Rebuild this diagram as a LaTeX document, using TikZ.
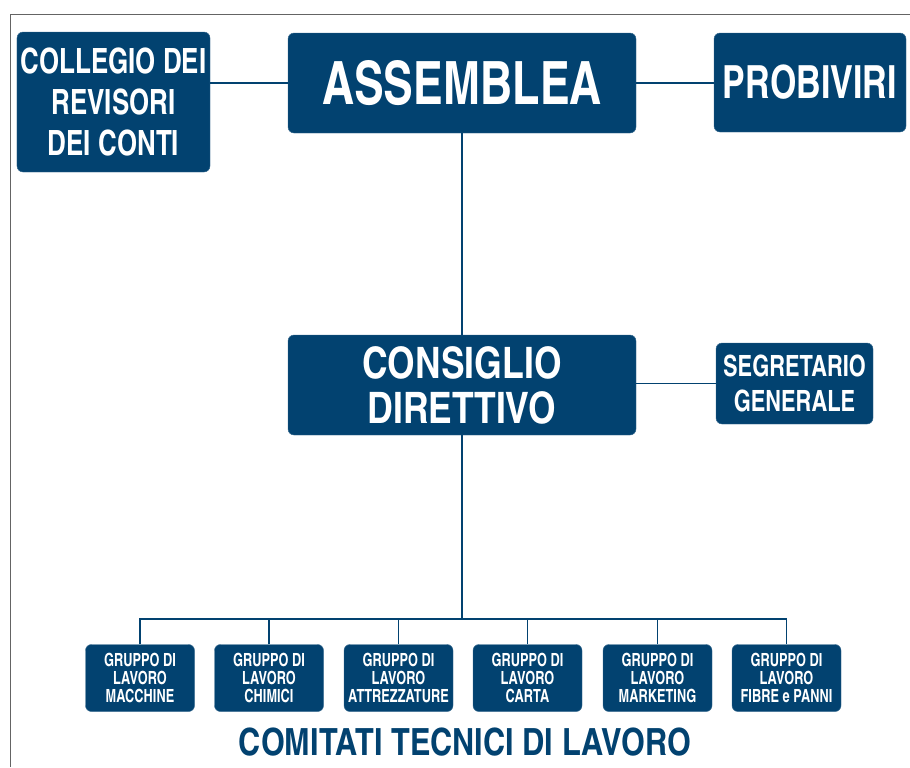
\documentclass[tikz,border=0pt]{standalone}
\usepackage{fontspec}
\setmainfont{TeX Gyre Heros Cn}[FakeStretch=0.91]
\newfontfamily\groupfont{TeX Gyre Heros Cn}[FakeStretch=0.86]
\newfontfamily\plainfont{TeX Gyre Heros Cn}
\usepackage{tikz}
\usetikzlibrary{calc}
\definecolor{orgblue}{RGB}{2,66,112}
\definecolor{framegray}{RGB}{100,100,100}

\begin{document}
\begin{tikzpicture}[x=0.3mm, y=-0.3mm,
        box_style/.style={rectangle, rounded corners=1.8mm, fill=orgblue, draw=orgblue!80!white, thin, text=white, align=center, inner sep=0pt, font=\bfseries},
        group_style/.style={box_style, minimum width=32.7mm, minimum height=20.1mm, font=\groupfont\bfseries\fontsize{15.5}{15.4}\selectfont},
        edge_style/.style={draw=orgblue, line width=1.2pt}]

        \useasboundingbox (0,0) rectangle (910,767);
        \draw [framegray, line width=0.8pt] (910,14) -- (10,14) -- (10,767);

        \node [box_style, minimum width=57.9mm, minimum height=42mm, font=\bfseries\fontsize{29.7}{35}\selectfont] (collegio) at (113.5,102) {COLLEGIO DEI\\REVISORI\\DEI CONTI};

        \node [box_style, minimum width=104.4mm, minimum height=30mm, font=\bfseries\fontsize{51}{51}\selectfont] (assemblea) at (462,83) {ASSEMBLEA};

        \node [box_style, minimum width=57.6mm, minimum height=29.7mm, font=\bfseries\fontsize{39}{39}\selectfont] (probiviri) at (810,82.5) {PROBIVIRI};

        \node [box_style, minimum width=104.4mm, minimum height=30mm, font=\plainfont\bfseries\fontsize{37}{38.4}\selectfont] (consiglio) at (462,385) {CONSIGLIO\\DIRETTIVO};

        \node [box_style, minimum width=47.1mm, minimum height=24.3mm, font=\bfseries\fontsize{25}{30}\selectfont] (segretario) at (794.5,383.5) {SEGRETARIO\\GENERALE};

        \coordinate (bus) at (462,619);

        \foreach \i/\x/\name in {1/140/MACCHINE, 2/269/CHIMICI, 3/398.5/ATTREZZATURE, 4/527.5/CARTA, 5/657.5/MARKETING, 6/786.5/FIBRE e PANNI}
        {
            \node [group_style] (gruppo\i) at (\x,678) {GRUPPO DI\\LAVORO\\\name};
            \draw [edge_style] (gruppo\i.north) |- (bus);
        }

        \node [text=orgblue, font=\plainfont\bfseries\fontsize{32}{32}\selectfont] (comitati) at (465,742) {COMITATI TECNICI DI LAVORO};

        \draw [edge_style] (assemblea.west) -- (assemblea.west -| collegio.east);

        \draw [edge_style] (assemblea.east) -- (assemblea.east -| probiviri.west);

        \draw [edge_style] (assemblea.south) -- (consiglio.north);

        \draw [edge_style] (segretario.west) -- (segretario.west -| consiglio.east);

        \draw [edge_style] (consiglio.south) -- (bus);

        \end{tikzpicture}
\end{document}
